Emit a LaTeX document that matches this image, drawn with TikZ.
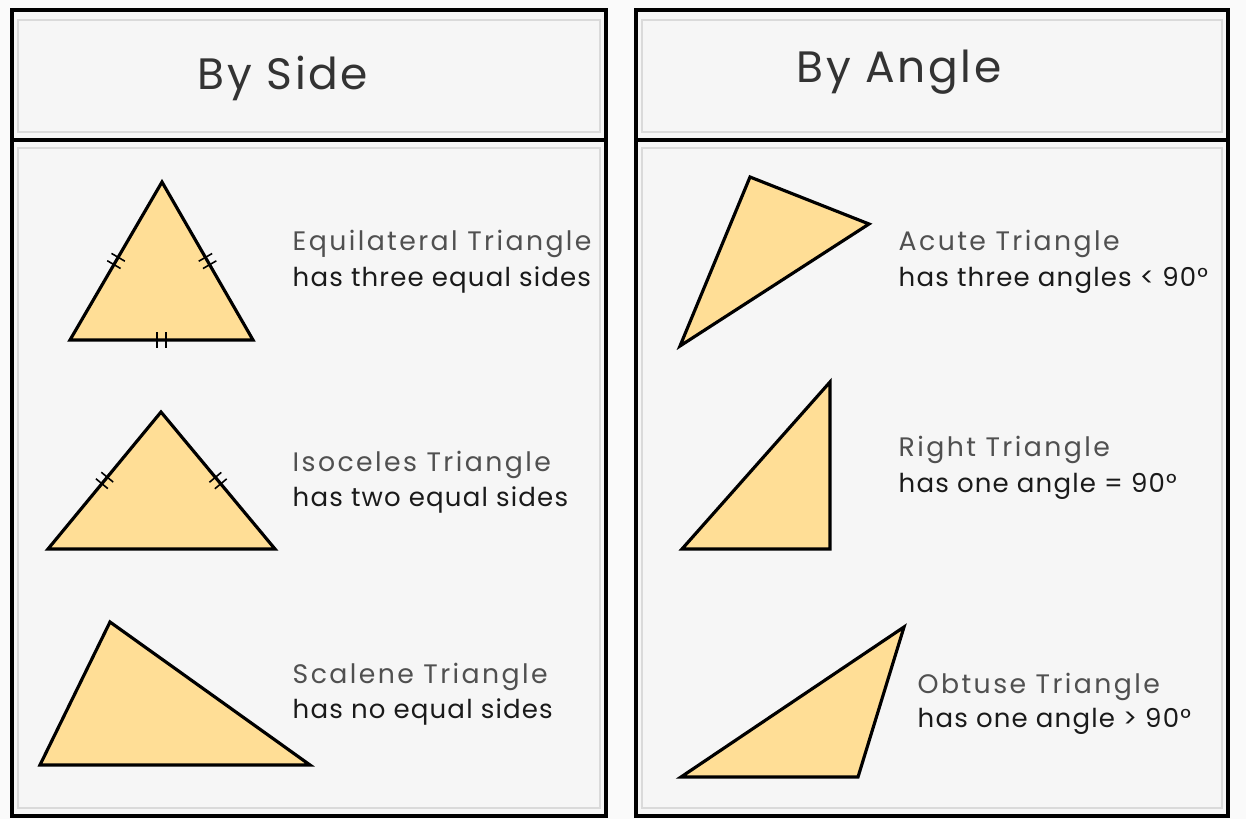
\documentclass[tikz,border=0pt]{standalone}
\usepackage{fontspec}
\setmainfont{Poppins}
\newfontfamily\kindfont[LetterSpace=9]{Poppins}
\newfontfamily\rulefont[LetterSpace=4.5]{Poppins}
\newfontfamily\headfont[LetterSpace=6]{Poppins}
\usepackage{tikz}
\usetikzlibrary{decorations.markings}

\definecolor{triFill}{HTML}{FFDE96}
\definecolor{panelBg}{HTML}{F6F6F6}
\definecolor{innerLine}{HTML}{DADADA}
\definecolor{titleGray}{HTML}{505050}
\definecolor{bodyBlack}{HTML}{1A1A1A}

\begin{document}
\begin{tikzpicture}[x=0.01cm, y=-0.01cm]
  % Define styles
  \tikzstyle{panel} = [draw=black, line width=0.9pt, fill=panelBg]
  \tikzstyle{inner} = [draw=innerLine, line width=0.4pt]
  \tikzstyle{tri} = [draw=black, line width=0.9pt, fill=triFill, line join=miter]
  \tikzstyle{heading} = [font=\headfont\fontsize{12.5}{14}\selectfont, text=black!80]
  \tikzstyle{kind} = [anchor=west, inner sep=0pt, font=\kindfont\fontsize{7.6}{9}\selectfont, text=titleGray]
  \tikzstyle{rule} = [anchor=west, inner sep=0pt, font=\rulefont\fontsize{7.4}{9}\selectfont, text=bodyBlack]
  \tikzstyle{ticks} = [postaction={decorate}, decoration={markings, mark=at position 0.5 with {\draw[line width=0.45pt] (-1.2pt,-2.2pt) -- (-1.2pt,2.2pt) (1.2pt,-2.2pt) -- (1.2pt,2.2pt);}}]

  % Background
  \fill[panelBg!60!white] (0,0) rectangle (1246,819);
  \useasboundingbox (0,0) rectangle (1246,819);

  % Left panel
  \draw[panel] (12,10) rectangle (606,816);
  \draw[inner] (18,20) rectangle (600,132);
  \draw[inner] (18,148) rectangle (600,808);
  \draw[line width=0.9pt] (12,140) -- (606,140);
  \node[heading] (side) at (283,78) {By Side};

  % Right panel
  \draw[panel] (636,10) rectangle (1228,816);
  \draw[inner] (642,20) rectangle (1222,132);
  \draw[inner] (642,148) rectangle (1222,808);
  \draw[line width=0.9pt] (636,140) -- (1228,140);
  \node[heading] (angle) at (899,72) {By Angle};

  % Equilateral triangle
  \coordinate (eqA) at (70,340);
  \coordinate (eqB) at (253,340);
  \coordinate (eqC) at (162,182);
  \draw[tri] (eqA) -- (eqB) -- (eqC) -- cycle;
  \path[ticks] (eqA) -- (eqB);
  \path[ticks] (eqB) -- (eqC);
  \path[ticks] (eqC) -- (eqA);
  \node[kind] (eqname) at (292,244) {Equilateral Triangle};
  \node[rule] (eqrule) at (292,280) {has three equal sides};

  % Isoceles triangle
  \coordinate (isA) at (48,549);
  \coordinate (isB) at (275,549);
  \coordinate (isC) at (161,412);
  \draw[tri] (isA) -- (isB) -- (isC) -- cycle;
  \path[ticks] (isB) -- (isC);
  \path[ticks] (isC) -- (isA);
  \node[kind] (isname) at (292,465) {Isoceles Triangle};
  \node[rule] (isrule) at (292,500) {has two equal sides};

  % Scalene triangle
  \coordinate (scA) at (40,765);
  \coordinate (scB) at (310,765);
  \coordinate (scC) at (110,622);
  \draw[tri] (scA) -- (scB) -- (scC) -- cycle;
  \node[kind] (scname) at (292,677) {Scalene Triangle};
  \node[rule] (scrule) at (292,712) {has no equal sides};

  % Acute triangle
  \coordinate (acA) at (680,346);
  \coordinate (acB) at (869,224);
  \coordinate (acC) at (750,177);
  \draw[tri] (acA) -- (acB) -- (acC) -- cycle;
  \node[kind] (acname) at (898,244) {Acute Triangle};
  \node[rule] (acrule) at (898,280) {has three angles < 90°};

  % Right triangle
  \coordinate (rtA) at (682,549);
  \coordinate (rtB) at (830,549);
  \coordinate (rtC) at (830,382);
  \draw[tri] (rtA) -- (rtB) -- (rtC) -- cycle;
  \node[kind] (rtname) at (898,450) {Right Triangle};
  \node[rule] (rtrule) at (898,486) {has one angle = 90°};

  % Obtuse triangle
  \coordinate (obA) at (681,777);
  \coordinate (obB) at (858,777);
  \coordinate (obC) at (904,627);
  \draw[tri] (obA) -- (obB) -- (obC) -- cycle;
  \node[kind] (obname) at (917,687) {Obtuse Triangle};
  \node[rule] (obrule) at (917,721) {has one angle > 90°};
\end{tikzpicture}
\end{document}
